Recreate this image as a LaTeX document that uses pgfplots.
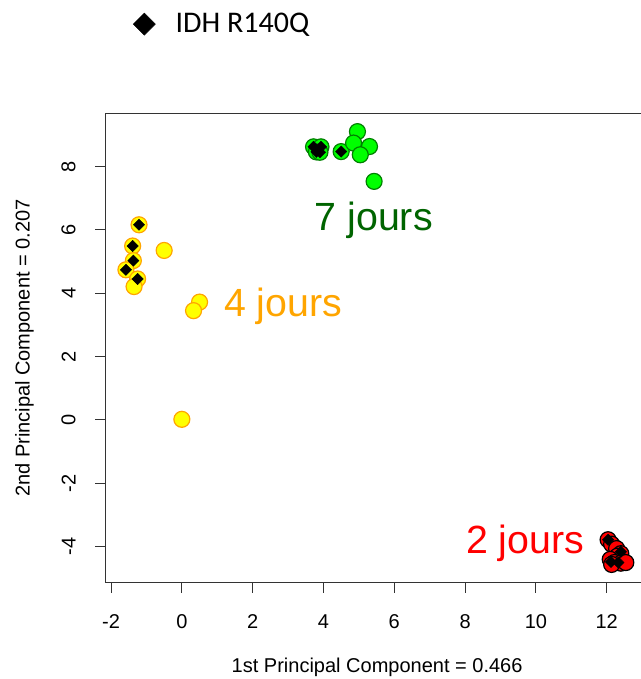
\documentclass[border=0pt]{standalone}
\usepackage{fontspec}
\setmainfont{Liberation Sans}
\newfontfamily\carlito{Carlito}
\usepackage{pgfplots}
\pgfplotsset{compat=1.18}
\definecolor{yfill}{HTML}{FFFF00}
\definecolor{yedge}{HTML}{FFA500}
\definecolor{gfill}{HTML}{00FF00}
\definecolor{gedge}{HTML}{008000}
\definecolor{rfill}{HTML}{FF0000}
\definecolor{dgreen}{HTML}{006400}
\definecolor{otxt}{HTML}{FFA500}
\begin{document}
\begin{tikzpicture}
\begin{axis}[name=ax, scale only axis, width=407pt, height=351.2pt,
  xmin=-2.15, xmax=13.18, ymin=-5.12, ymax=9.66,
  xtick={-2,0,2,4,6,8,10,12}, xticklabels={-2,0,2,4,6,8,10,12},
  ytick={-4,-2,0,2,4,6,8}, yticklabels={-4,-2,0,2,4,6,8},
  xtick pos=bottom, ytick pos=left, tick align=outside, major tick length=7.9pt,
  axis line style={black!80, line width=0.75pt},
  tick style={black!80, line width=0.75pt},
  ticklabel style={font=\fontsize{15}{18}\selectfont, inner sep=0pt},
  xticklabel style={anchor=north},
  xticklabel shift=16.5pt,
  yticklabel style={rotate=90, anchor=south},
  yticklabel shift=14.5pt,
  xlabel={1st Principal Component = 0.466},
  ylabel={2nd Principal Component = 0.207},
  label style={font=\fontsize{15}{18}\selectfont, inner sep=0pt},
  xlabel style={at={([yshift=-67.4pt]axis description cs:0.5,0)}, anchor=base},
  ylabel style={at={([xshift=-57pt]axis description cs:0,0.5)}, anchor=base, rotate=0},
  legend style={at={([xshift=20.5pt,yshift=75.75pt]axis description cs:0,1)}, anchor=north west,
    draw=none, fill=none, inner sep=0pt, outer sep=0pt, nodes={inner sep=0pt},
    column sep=15pt, font=\carlito\fontsize{22.5}{27}\selectfont},
]
\addlegendimage{legend image code/.code={\fill[black] (0pt,0pt) -- (8.25pt,8.25pt) -- (16.5pt,0pt) -- (8.25pt,-8.25pt) -- cycle;}}
\addlegendentry{IDH R140Q}
% 4 jours (yellow)
\addplot[forget plot, only marks, mark=*, mark size=6pt, mark options={fill=yfill, draw=yedge, line width=0.9pt}] coordinates {
(-1.21,6.16) (-1.39,5.49) (-1.37,5.03) (-1.58,4.74) (-1.25,4.45) (-1.35,4.21)
(-0.50,5.35) (0.50,3.72) (0.33,3.45) (0.00,0.02)};
% 7 jours (green)
\addplot[forget plot, only marks, mark=*, mark size=6pt, mark options={fill=gfill, draw=gedge, line width=0.9pt}] coordinates {
(3.72,8.62) (3.93,8.62) (3.80,8.46) (3.90,8.45) (4.50,8.47)
(4.96,9.10) (4.85,8.74) (5.30,8.63) (5.04,8.37) (5.43,7.53)};
% 2 jours (red)
\addplot[forget plot, only marks, mark=*, mark size=6pt, mark options={fill=rfill, draw=black, line width=0.9pt}] coordinates {
(12.04,-3.78) (12.14,-3.92) (12.28,-4.06) (12.40,-4.22) (12.30,-4.30)
(12.10,-4.40) (12.22,-4.50) (12.40,-4.52) (12.54,-4.50) (12.14,-4.56)};
% IDH R140Q diamonds
\addplot[forget plot, only marks, mark=square*, mark size=3pt, mark options={rotate=45, fill=black, draw=black, line width=0.3pt}] coordinates {
(-1.21,6.16) (-1.39,5.49) (-1.37,5.03) (-1.58,4.74) (-1.25,4.45)
(3.72,8.62) (3.93,8.62) (3.80,8.46) (3.90,8.45) (4.50,8.47)
(12.04,-3.78) (12.40,-4.16) (12.12,-4.48) (12.33,-4.50)};
\node[text=dgreen, font=\fontsize{29.5}{34}\selectfont, anchor=base, inner sep=0pt] at (axis cs:5.42,5.97) {7 jours};
\node[text=otxt, font=\fontsize{29.5}{34}\selectfont, anchor=base, inner sep=0pt] at (axis cs:2.86,3.27) {4 jours};
\node[text=red, font=\fontsize{29.5}{34}\selectfont, anchor=base, inner sep=0pt] at (axis cs:9.70,-4.20) {2 jours};
\end{axis}
\pgfresetboundingbox
\path[use as bounding box] ([xshift=-79.3pt,yshift=-72.6pt]ax.south west) rectangle ([xshift=400.7pt,yshift=436.6pt]ax.south west);
\end{tikzpicture}
\end{document}
